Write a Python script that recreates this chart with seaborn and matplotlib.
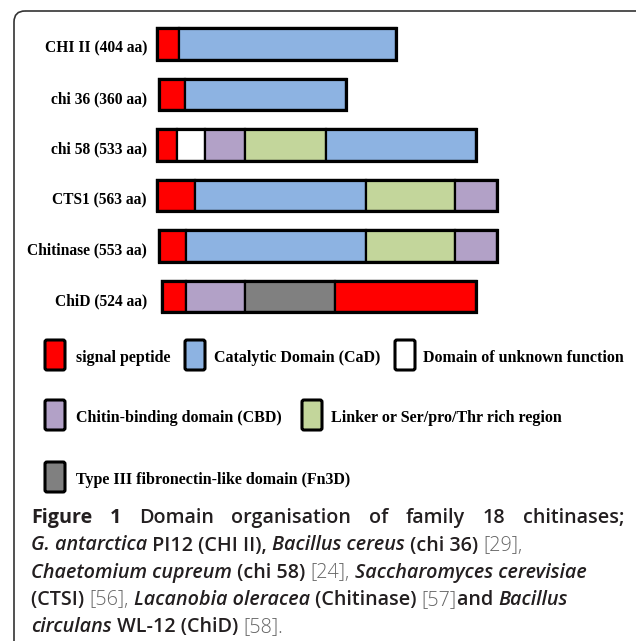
import matplotlib
matplotlib.use("Agg")
import matplotlib.pyplot as plt
from matplotlib.patches import FancyBboxPatch
import pandas as pd
import seaborn as sns

# ---------------- data ----------------
proteins = ["CHI II (404 aa)", "chi 36 (360 aa)", "chi 58 (533 aa)",
            "CTS1 (563 aa)", "Chitinase (553 aa)", "ChiD (524 aa)"]
starts = [157, 159, 157, 157, 159, 162]
domains = [
    ["signal", "CaD"],
    ["signal", "CaD"],
    ["signal", "DUF", "CBD", "Linker", "CaD"],
    ["signal", "CaD", "Linker", "CBD"],
    ["signal", "CaD", "Linker", "CBD"],
    ["signal", "CBD", "Fn3D", "signal"],
]
lengths = [
    [22, 217],
    [26, 161],
    [20, 28, 40, 81, 150],
    [38, 171, 89, 42],
    [27, 180, 89, 42],
    [24, 59, 90, 141],
]
legend_keys = ["signal", "CaD", "DUF", "CBD", "Linker", "Fn3D"]
legend_labels = ["signal peptide", "Catalytic Domain (CaD)",
                 "Domain of unknown function", "Chitin-binding domain (CBD)",
                 "Linker or Ser/pro/Thr rich region",
                 "Type III fibronectin-like domain (Fn3D)"]

colors = {"signal": "#FF0000", "CaD": "#8DB3E2", "DUF": "#FFFFFF",
          "CBD": "#B2A1C7", "Linker": "#C3D69B", "Fn3D": "#808080"}

rows = []
for i, (p, s0, ds, ls) in enumerate(zip(proteins, starts, domains, lengths)):
    x = s0
    for d, l in zip(ds, ls):
        rows.append(dict(protein=p, idx=i, domain=d, left=x, length=l))
        x += l
df = pd.DataFrame(rows)

# ---------------- figure ----------------
sns.set_theme(style="white")
W, H = 636, 641
fig = plt.figure(figsize=(W / 100, H / 100), dpi=100)
fig.patch.set_facecolor("white")

# overlay axes in pixel units
ax0 = fig.add_axes([0, 0, 1, 1])
ax0.set_xlim(0, W)
ax0.set_ylim(H, 0)
ax0.axis("off")

box = FancyBboxPatch((14, 11), 660, 680, boxstyle="round,pad=0,rounding_size=11",
                     facecolor="none", edgecolor="#333333", lw=1.2, zorder=1)
ax0.add_patch(box)

# bar axes
top_px, row_h = 18.75, 50.5
ax = fig.add_axes([150 / W, 1 - (top_px + 6 * row_h) / H, (W - 150) / W, 6 * row_h / H])
ax.set_xlim(150, W)
ax.set_ylim(5.5, -0.5)
ax.axis("off")
ax.patch.set_alpha(0)

bh = 0.62
for _, r in df.iterrows():
    ax.barh(r["idx"], r["length"], left=r["left"], height=bh,
            color=colors[r["domain"]], edgecolor="black", lw=1.6, zorder=3)
tot = df.groupby("idx").agg(left=("left", "min"), length=("length", "sum")).reset_index()
for _, r in tot.iterrows():
    ax.barh(r["idx"], r["length"], left=r["left"], height=bh,
            fill=False, edgecolor="black", lw=2.3, zorder=4)

serif = dict(family="Liberation Serif", weight="bold", color="black")
for i, p in enumerate(proteins):
    ax.text(147, i + 0.09, p, ha="right", va="center", fontsize=11.2, **serif)

# legend
leg_pos = [(45, 355, 76), (185, 355, 214), (395, 355, 423),
           (45, 415, 76), (302, 415, 331), (45, 477, 76)]
for key, lab, (px, py, tx) in zip(legend_keys, legend_labels, leg_pos):
    ax0.add_patch(FancyBboxPatch((px, py - 15), 20, 30,
                                 boxstyle="round,pad=0,rounding_size=2",
                                 facecolor=colors[key], edgecolor="black", lw=2.2, zorder=3))
    ax0.text(tx, py + 7, lab, ha="left", va="baseline", fontsize=11.5, **serif)

# caption
fig.canvas.draw()
rend = fig.canvas.get_renderer()
cap = "#231F20"
st = {
    "B": dict(family="Open Sans", weight="bold", style="normal", color=cap),
    "S": dict(family="Open Sans", weight="semibold", style="normal", color=cap),
    "I": dict(family="Open Sans", weight="semibold", style="italic", color=cap),
    "L": dict(family="Open Sans", weight="light", style="normal", color="#666666"),
}
fs = 14.2


def tw(s, kw):
    t = ax0.text(0, 0, "|" + s + "|", fontsize=fs, **kw)
    w1 = t.get_window_extent(rend).width
    t.remove()
    t = ax0.text(0, 0, "||", fontsize=fs, **kw)
    w2 = t.get_window_extent(rend).width
    t.remove()
    return w1 - w2


def run_line(runs, x, y):
    for s, k in runs:
        ax0.text(x, y, s, fontsize=fs, ha="left", va="baseline", **st[k])
        x += tw(s, st[k])


# line 1 justified
words = [("Figure", "B"), ("1", "B"), ("Domain", "S"), ("organisation", "S"),
         ("of", "S"), ("family", "S"), ("18", "S"), ("chitinases;", "S")]
x0, x1 = 31, 624
ws = [tw(w, st[k]) for w, k in words]
gap = (x1 - x0 - sum(ws)) / (len(words) - 1)
x = x0
for (w, k), wd in zip(words, ws):
    ax0.text(x, 523, w, fontsize=fs, ha="left", va="baseline", **st[k])
    x += wd + gap

lines = [
    [("G. antarctica", "I"), (" PI12 (CHI II), ", "S"), ("Bacillus cereus", "I"),
     (" (chi 36) ", "S"), ("[29],", "L")],
    [("Chaetomium cupreum", "I"), (" (chi 58) ", "S"), ("[24],", "L"),
     (" ", "S"), ("Saccharomyces cerevisiae", "I")],
    [("(CTSI) ", "S"), ("[56],", "L"), (" ", "S"), ("Lacanobia oleracea", "I"),
     (" (Chitinase) ", "S"), ("[57]", "L"), ("and ", "S"), ("Bacillus", "I")],
    [("circulans", "I"), (" WL-12 (ChiD) ", "S"), ("[58].", "L")],
]
for ln, yb in zip(lines, [550.5, 578, 605, 632]):
    run_line(ln, 31, yb)

fig.savefig("out.png", dpi=100, facecolor="white")
